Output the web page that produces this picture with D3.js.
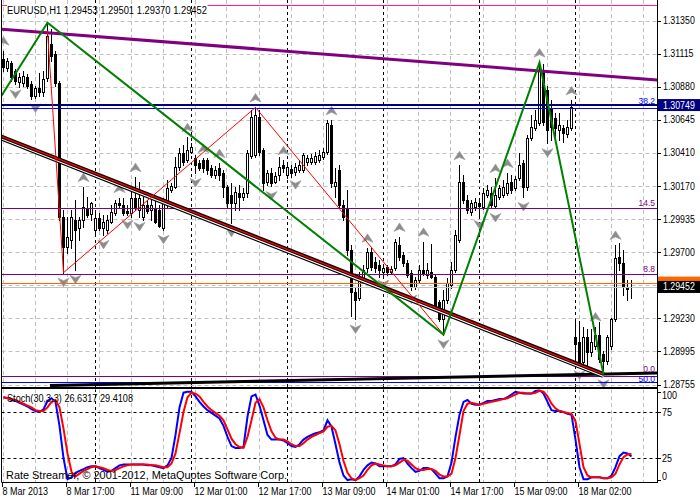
<!DOCTYPE html>
<html><head><meta charset="utf-8">
<script src="https://cdn.jsdelivr.net/npm/d3@7"></script>
<style>
body{margin:0;background:#fff}
svg{display:block}
text{font-family:"Liberation Sans",Arial,sans-serif;font-size:10px}
text.fib{font-size:8.5px}
</style>
</head><body>
<svg id="c" width="700" height="500"></svg>
<script>
// ---------------- DATA ----------------
const symbolTitle = "EURUSD,H1  1.29453 1.29501 1.29370 1.29452";
const stochTitle = "Stoch(30,3,3) 26.6317 29.4108";
const copyright = "Rate Streamer, \u00a9 2001-2012, MetaQuotes Software Corp.";

const opens = [1.31080,1.31016,1.31052,1.30995,1.30910,1.30903,1.30952,1.30896,1.30817,1.30874,
1.30839,1.30945,1.31187,1.31116,1.30903,1.29951,1.29738,1.29788,1.29930,1.29873,
1.29930,1.30015,1.29973,1.29859,1.29944,1.29873,1.29859,1.29916,1.29980,1.30051,
1.30036,1.29994,1.29980,1.30086,1.30001,1.29951,1.30036,1.30001,1.30015,1.30001,
1.29873,1.30036,1.30143,1.30164,1.30306,1.30406,1.30356,1.30413,1.30370,1.30335,
1.30356,1.30356,1.30299,1.30249,1.30299,1.30264,1.30164,1.30107,1.30051,1.30122,
1.30093,1.30122,1.30384,1.30391,1.30661,1.30427,1.30200,1.30264,1.30200,1.30249,
1.30320,1.30249,1.30292,1.30271,1.30285,1.30285,1.30342,1.30342,1.30342,1.30356,
1.30377,1.30413,1.30604,1.30171,1.30285,1.30036,1.30015,1.29717,1.29419,1.29376,
1.29504,1.29589,1.29703,1.29632,1.29610,1.29561,1.29596,1.29561,1.29589,1.29752,
1.29681,1.29625,1.29554,1.29454,1.29504,1.29575,1.29539,1.29561,1.29525,1.29348,
1.29220,1.29362,1.29468,1.29575,1.29788,1.30200,1.30072,1.29987,1.30022,1.30051,
1.30022,1.30107,1.30122,1.30029,1.30093,1.30107,1.30122,1.30200,1.30157,1.30228,
1.30335,1.30164,1.30512,1.30583,1.30619,1.30995,1.30853,1.30725,1.30654,1.30569,
1.30583,1.30541,1.30583,1.29092,1.29057,1.28915,1.29092,1.28986,1.29028,1.29113,
1.28971,1.28922,1.29028,1.29220,1.29667,1.29625,1.29454,1.29453];

const highs = [1.31137,1.31087,1.31066,1.31009,1.30974,1.30995,1.30967,1.30924,1.30888,1.30981,
1.30995,1.31336,1.31293,1.31137,1.30924,1.30001,1.29951,1.30001,1.30072,1.29951,
1.30164,1.30093,1.30058,1.29987,1.29980,1.29965,1.29965,1.30036,1.30072,1.30086,
1.30086,1.30036,1.30164,1.30235,1.30200,1.30093,1.30072,1.30107,1.30072,1.30036,
1.30086,1.30214,1.30193,1.30377,1.30441,1.30462,1.30519,1.30477,1.30391,1.30356,
1.30370,1.30370,1.30320,1.30313,1.30335,1.30285,1.30178,1.30193,1.30164,1.30178,
1.30157,1.30427,1.30711,1.30732,1.30711,1.30441,1.30285,1.30299,1.30271,1.30377,
1.30356,1.30335,1.30320,1.30335,1.30356,1.30406,1.30391,1.30399,1.30413,1.30427,
1.30441,1.30640,1.30640,1.30299,1.30320,1.30072,1.30143,1.29752,1.29454,1.29561,
1.29610,1.29731,1.29731,1.29667,1.29646,1.29610,1.29610,1.29603,1.29795,1.29809,
1.29703,1.29646,1.29575,1.29525,1.29610,1.29774,1.29625,1.29760,1.29539,1.29362,
1.29433,1.29518,1.29632,1.29859,1.30320,1.30249,1.30107,1.30072,1.30086,1.30086,
1.30157,1.30178,1.30164,1.30228,1.30178,1.30214,1.30264,1.30249,1.30242,1.30406,
1.30356,1.30533,1.30675,1.30711,1.31052,1.31045,1.30888,1.30782,1.30690,1.30690,
1.30604,1.30640,1.30782,1.29220,1.29206,1.29170,1.29149,1.29149,1.29170,1.29199,
1.28993,1.29113,1.29234,1.29752,1.29767,1.29717,1.29504,1.29501];

const lows = [1.30995,1.30995,1.30924,1.30896,1.30881,1.30888,1.30867,1.30789,1.30796,1.30810,
1.30817,1.30924,1.31066,1.30888,1.29930,1.29554,1.29696,1.29731,1.29575,1.29788,
1.29880,1.29951,1.29930,1.29838,1.29859,1.29823,1.29838,1.29909,1.29965,1.30015,
1.29965,1.29965,1.29951,1.30001,1.29951,1.29930,1.29980,1.29930,1.29909,1.29880,
1.29859,1.30022,1.30129,1.30157,1.30285,1.30320,1.30342,1.30406,1.30264,1.30285,
1.30271,1.30257,1.30235,1.30228,1.30214,1.30093,1.30022,1.29909,1.30001,1.30001,
1.30072,1.30093,1.30370,1.30377,1.30391,1.30143,1.30178,1.30171,1.30193,1.30214,
1.30271,1.30228,1.30235,1.30249,1.30271,1.30271,1.30320,1.30328,1.30328,1.30342,
1.30363,1.30399,1.30164,1.30093,1.30022,1.29930,1.29681,1.29248,1.29220,1.29362,
1.29490,1.29561,1.29575,1.29561,1.29525,1.29539,1.29539,1.29554,1.29575,1.29646,
1.29603,1.29525,1.29433,1.29440,1.29490,1.29539,1.29518,1.29518,1.29291,1.29206,
1.29113,1.29341,1.29447,1.29561,1.29774,1.30051,1.29980,1.29965,1.30001,1.29965,
1.30008,1.30093,1.30022,1.30015,1.30079,1.30093,1.30107,1.30122,1.30143,1.30214,
1.30093,1.30143,1.30498,1.30569,1.30604,1.30604,1.30477,1.30498,1.30519,1.30498,
1.30484,1.30519,1.30569,1.28900,1.28893,1.28900,1.28893,1.28957,1.29007,1.28915,
1.28829,1.28900,1.29007,1.29206,1.29575,1.29397,1.29362,1.29370];

const closes = [1.31023,1.31066,1.30952,1.30924,1.30952,1.30959,1.30888,1.30817,1.30867,1.30839,
1.30938,1.31243,1.31101,1.30903,1.29951,1.29738,1.29809,1.29951,1.29859,1.29930,
1.30022,1.29965,1.30051,1.29944,1.29873,1.29916,1.29930,1.29987,1.30051,1.30036,
1.29980,1.29980,1.30086,1.30015,1.30086,1.30036,1.29994,1.30036,1.29916,1.29887,
1.30058,1.30157,1.30171,1.30306,1.30406,1.30342,1.30427,1.30448,1.30320,1.30299,
1.30299,1.30285,1.30249,1.30285,1.30249,1.30164,1.30051,1.30051,1.30129,1.30093,
1.30122,1.30406,1.30661,1.30675,1.30413,1.30193,1.30264,1.30193,1.30242,1.30306,
1.30299,1.30306,1.30264,1.30306,1.30320,1.30391,1.30370,1.30370,1.30384,1.30391,
1.30413,1.30619,1.30193,1.30200,1.30036,1.29951,1.29717,1.29419,1.29362,1.29518,
1.29575,1.29703,1.29596,1.29589,1.29575,1.29589,1.29561,1.29582,1.29774,1.29667,
1.29625,1.29539,1.29454,1.29504,1.29575,1.29554,1.29575,1.29525,1.29312,1.29220,
1.29362,1.29483,1.29575,1.29823,1.30200,1.30072,1.30001,1.30051,1.30058,1.30029,
1.30122,1.30143,1.30036,1.30107,1.30157,1.30164,1.30193,1.30143,1.30221,1.30320,
1.30164,1.30512,1.30590,1.30640,1.30995,1.30626,1.30569,1.30590,1.30583,1.30604,
1.30548,1.30590,1.30732,1.29042,1.28915,1.29092,1.28986,1.29057,1.29113,1.28936,
1.28922,1.29092,1.29220,1.29660,1.29625,1.29454,1.29440,1.29452];

const stochMain = [91,90,88,87,85,83,81,78,76,75,78,87,90,86,60,25,2,4,9,11,
13,15,16,16,14,12,10,11,14,17,18,18,18,18,18,18,17,17,16,15,
14,17,25,50,80,96,97,97,92,86,81,77,74,71,68,60,48,38,36,36,
37,70,92,94,82,66,50,45,45,45,44,41,38,37,40,45,48,50,52,53,
55,66,59,40,20,6,1,2,1,5,12,17,20,19,16,16,16,16,18,24,
25,19,14,10,11,14,14,13,8,3,3,5,20,48,72,86,88,84,83,83,
85,87,87,88,89,89,91,94,97,96,95,95,95,98,99,95,86,77,76,76,
75,73,72,45,15,2,2,4,4,4,3,3,6,15,27,31,30,26.6317];

const stochSignal = [91,90,89,88,86,84,82,80,77,76,76,80,86,88,80,57,30,10,5,8,
11,13,15,16,15,14,12,11,12,14,16,17,18,18,18,18,18,17,17,16,
15,15,19,30,52,75,91,96,95,92,86,81,77,74,71,66,56,46,40,37,
36,48,66,85,89,80,66,54,47,45,45,43,40,38,38,41,45,48,50,52,
54,59,60,55,40,22,9,3,1,3,6,12,17,19,18,17,16,16,17,20,
23,22,18,14,12,12,13,13,11,7,5,5,8,25,50,76,84,85,84,83,
84,85,86,87,88,89,90,92,94,96,96,95,95,96,98,97,92,84,79,76,
75,74,73,65,40,15,6,4,4,4,3,3,4,8,18,26,29,29.4108];

const priceTicks = [1.31350,1.31115,1.30880,1.30645,1.30410,1.30170,1.29935,1.29700,1.29465,1.29230,1.28995,1.28755];
const stochTicks = [100,75,25,0];
const stochLevels = [75,25];
const timeLabelBars = [0,16,32,48,64,80,96,112,128,144];
const timeLabels = ["8 Mar 2013","8 Mar 17:00","11 Mar 09:00","12 Mar 01:00","12 Mar 17:00","13 Mar 09:00","14 Mar 01:00","14 Mar 17:00","15 Mar 09:00","18 Mar 02:00"];
const daySeparatorBars = [23,47,71,95,119,143];

const upFractalBars = [0,20,29,33,46,50,54,63,70,82,91,99,105,114,123,126,134,142,148,153];
const downFractalBars = [3,8,15,18,25,31,34,40,48,57,67,73,88,95,102,110,119,123,130,136,144,150];

// chart objects (bar index, price)
const greenZigzag = [[-3.1,1.30699],[11,1.31336],[110,1.29113],[134,1.31052],[150,1.28829]];
const redZigzag = [[11,1.31280],[15,1.29554],[63,1.30732],[110,1.29113]];
const channelLine = [[-0.9,1.30521],[150,1.28824]];
const purpleTrend = [[-0.9,1.31291],[163.4,1.30928]];
const blackTrend = [[11.6,1.28749],[163.4,1.28839]];

const purpleFibLevels = [14.5, 8.8, 0.0];
const purpleFibPrices = [1.30015, 1.29544, 1.28817];
const blueFibLevels = [38.2, 50.0];
const blueFibPrices = [1.30731, 1.28774];
const pinkLinePrice = 1.31462;
const navyLinePrice = 1.30749;
const orangeLinePrice = 1.29483;
const bidPrice = 1.29452;

// ---------------- LAYOUT ----------------
const svg = d3.select('#c');
const L = 1.5, R = 657.5, mainB = 387, indT = 389, indB = 482.5;
const N = opens.length;
const purpleLabelLift = [2.5, 2.5, 5];
const blueLabelLift = [5, 1];

const x = d3.scaleLinear().domain([0, 157]).range([3.5, 631.5]);
const y = d3.scaleLinear().domain([1.28646, 1.31498]).range([400, 0]);
const ys = d3.scaleLinear().domain([0, 100]).range([481, 389]);

const defs = svg.append('defs');
defs.append('clipPath').attr('id','cm').append('rect').attr('x',2).attr('y',0).attr('width',655).attr('height',mainB);
defs.append('clipPath').attr('id','ci').append('rect').attr('x',2).attr('y',indT+0.5).attr('width',655).attr('height',indB-indT-1);

function fit(sel, f){ sel.each(function(){ const w=this.getComputedTextLength(); this.setAttribute('lengthAdjust','spacingAndGlyphs'); this.setAttribute('textLength', (w*f).toFixed(1)); }); }

const main = svg.append('g').attr('clip-path','url(#cm)');
const ind = svg.append('g').attr('clip-path','url(#ci)');

// grid
const gridBars = d3.range(0, 164, 8);
[main, ind].forEach((g, k) => {
  const y0 = k===0 ? 0 : indT, y1 = k===0 ? mainB : indB;
  g.selectAll('line.vg').data(gridBars).join('line').attr('class','vg')
    .attr('x1', d=>Math.round(x(d))-0.5).attr('x2', d=>Math.round(x(d))-0.5).attr('y1',y0).attr('y2',y1)
    .attr('stroke','#c0c0c0').attr('stroke-dasharray','4,3');
  g.selectAll('line.sep').data(daySeparatorBars).join('line').attr('class','sep')
    .attr('x1', d=>x(d)).attr('x2', d=>x(d)).attr('y1',y0).attr('y2',y1)
    .attr('stroke','#000').attr('stroke-dasharray','3,3');
});
main.selectAll('line.hg').data(priceTicks).join('line').attr('class','hg')
  .attr('x1',L).attr('x2',R).attr('y1',d=>Math.round(y(d))+0.5).attr('y2',d=>Math.round(y(d))+0.5)
  .attr('stroke','#c0c0c0').attr('stroke-dasharray','4,3');

// candles
const bars = d3.range(N).map(i=>({i,o:opens[i],h:highs[i],l:lows[i],c:closes[i]}));
const cg = main.append('g');
cg.selectAll('line.w').data(bars).join('line')
  .attr('x1',d=>x(d.i)).attr('x2',d=>x(d.i))
  .attr('y1',d=>Math.round(y(d.h))).attr('y2',d=>Math.round(y(d.l))+1)
  .attr('stroke','#000');
cg.selectAll('rect.b').data(bars).join('rect')
  .attr('x',d=>x(d.i)-1).attr('width',2)
  .attr('y',d=>Math.round(y(Math.max(d.o,d.c)))+0.5)
  .attr('height',d=>Math.max(0, Math.round(y(Math.min(d.o,d.c)))-Math.round(y(Math.max(d.o,d.c)))))
  .attr('fill',d=>d.c>=d.o?'#fff':'#000').attr('stroke','#000');

// fractals
const upPath = 'M0,-4.5L5.5,4L0,1.5L-5.5,4Z';
const dnPath = 'M0,4.5L5.5,-4L0,-1.5L-5.5,-4Z';
main.selectAll('path.fu').data(upFractalBars).join('path')
  .attr('d',upPath).attr('transform',d=>`translate(${x(d)},${y(highs[d])-9.5})`)
  .attr('fill','#8c8c8c').attr('stroke','#9c9c9c').attr('stroke-width',0.7);
main.selectAll('path.fd').data(downFractalBars).join('path')
  .attr('d',dnPath).attr('transform',d=>`translate(${x(d)},${y(lows[d])+9.5})`)
  .attr('fill','#8c8c8c').attr('stroke','#9c9c9c').attr('stroke-width',0.7);

// horizontal objects
function hline(price, color, w, x1=L, x2=R){
  const yy = Math.round(y(price)) + (w%2 ? 0.5 : 0);
  main.append('line').attr('x1',x1).attr('x2',x2).attr('y1',yy).attr('y2',yy).attr('stroke',color).attr('stroke-width',w);
  return yy;
}
hline(pinkLinePrice, '#ff2090', 1, x(51), R);
hline(pinkLinePrice, '#ff2090', 1, 2, 7);
const purpleYs = purpleFibPrices.map(p=>hline(p,'#800080',1));
const blueYs = blueFibPrices.map(p=>hline(p,'#0000ff',1));
hline(navyLinePrice,'#000080',2);
hline(orangeLinePrice,'#ff6600',1);
hline(bidPrice,'#c0c0c0',1);

// trend lines
const lp = d3.line().x(d=>x(d[0])).y(d=>y(d[1]));
main.append('path').attr('d',lp(blackTrend)).attr('stroke','#000').attr('stroke-width',3).attr('fill','none');
main.append('path').attr('d',lp(purpleTrend)).attr('stroke','#800080').attr('stroke-width',3).attr('fill','none');
main.append('path').attr('d',lp(channelLine)).attr('stroke','#000').attr('stroke-width',6).attr('fill','none');
main.append('path').attr('d',lp(channelLine)).attr('transform','translate(0,1.4)').attr('stroke','#fff').attr('stroke-width',1.1).attr('fill','none');
main.append('path').attr('d',lp(channelLine)).attr('transform','translate(0,-1)').attr('stroke','#ff0000').attr('stroke-width',1.4).attr('fill','none');
main.append('path').attr('d',lp(redZigzag)).attr('stroke','#ff0000').attr('stroke-width',1).attr('fill','none');
main.append('path').attr('d',lp(greenZigzag)).attr('stroke','#008000').attr('stroke-width',2).attr('fill','none');

// fib labels
main.selectAll('text.pf').data(purpleFibLevels).join('text').attr('class','fib')
  .attr('x',655).attr('y',(d,i)=>purpleYs[i]-purpleLabelLift[i]).attr('text-anchor','end').attr('fill','#800080')
  .text(d=>d.toFixed(1));
main.selectAll('text.bf').data(blueFibLevels).join('text').attr('class','fib')
  .attr('x',655).attr('y',(d,i)=>blueYs[i]-blueLabelLift[i]).attr('text-anchor','end').attr('fill','#0000ff')
  .text(d=>d.toFixed(1));

// stochastic
ind.selectAll('line.lv').data(stochLevels).join('line')
  .attr('x1',L).attr('x2',R).attr('y1',d=>Math.round(ys(d))+0.5).attr('y2',d=>Math.round(ys(d))+0.5)
  .attr('stroke','#000').attr('stroke-dasharray','3,3');
const ls = d3.line().x((d,i)=>x(i)).y(d=>ys(d));
ind.append('path').attr('d',ls(stochMain)).attr('stroke','#0000ff').attr('stroke-width',2).attr('fill','none');
ind.append('path').attr('d',ls(stochSignal)).attr('stroke','#ff0000').attr('stroke-width',2).attr('fill','none');

// texts in windows
svg.append('text').attr('x',7).attr('y',14).attr('textLength',200).attr('lengthAdjust','spacingAndGlyphs').text(symbolTitle);
svg.append('text').attr('x',7).attr('y',401.5).attr('textLength',126).attr('lengthAdjust','spacingAndGlyphs').text(stochTitle);
svg.append('text').attr('x',6).attr('y',479).attr('textLength',281).attr('lengthAdjust','spacingAndGlyphs').text(copyright);

// frames
svg.append('line').attr('x1',L).attr('x2',L).attr('y1',0).attr('y2',indB).attr('stroke','#000');
svg.append('line').attr('x1',R).attr('x2',R).attr('y1',0).attr('y2',indB+0.5).attr('stroke','#000');
svg.append('rect').attr('x',1).attr('y',mainB).attr('width',657).attr('height',2).attr('fill','#000');
svg.append('line').attr('x1',L).attr('x2',R).attr('y1',indB).attr('y2',indB).attr('stroke','#000');

// price axis (the label under the current-price box is hidden, as in the terminal)
const pa = svg.append('g');
pa.selectAll('line').data(priceTicks).join('line')
  .attr('x1',R).attr('x2',661).attr('y1',d=>Math.round(y(d))+0.5).attr('y2',d=>Math.round(y(d))+0.5).attr('stroke','#000');
pa.selectAll('text').data(priceTicks.filter(d=>Math.abs(y(d)-y(bidPrice))>9)).join('text')
  .attr('x',663).attr('y',d=>y(d)+3.5).text(d=>d.toFixed(5)).call(fit,0.88);

function priceBox(price, bg, withText){
  const yy = y(price);
  svg.append('rect').attr('x',658).attr('y',yy-6).attr('width',42).attr('height',12).attr('fill',bg);
  if (withText) svg.append('text').attr('x',663).attr('y',yy+3.5).attr('fill','#fff').text(price.toFixed(5)).call(fit,0.88);
}
priceBox(navyLinePrice,'#000080',true);
priceBox(orangeLinePrice,'#ff6600',false);
priceBox(bidPrice,'#000',true);

// stoch axis
const sa = svg.append('g');
sa.selectAll('line').data(stochTicks).join('line')
  .attr('x1',R).attr('x2',661).attr('y1',d=>Math.round(Math.min(Math.max(ys(d),392),480))+0.5).attr('y2',d=>Math.round(Math.min(Math.max(ys(d),392),480))+0.5).attr('stroke','#000');
sa.selectAll('text').data(stochTicks).join('text')
  .attr('x',662).attr('y',d=>Math.min(Math.max(ys(d),395),476)+3.5).text(d=>d).call(fit,0.9);

// time axis
const ta = svg.append('g');
ta.selectAll('line').data(timeLabelBars).join('line')
  .attr('x1',d=>x(d)-1).attr('x2',d=>x(d)-1).attr('y1',indB).attr('y2',487).attr('stroke','#000');
ta.selectAll('text').data(timeLabelBars).join('text')
  .attr('x',d=>x(d)-1).attr('y',494.5).text((d,i)=>timeLabels[i]).call(fit,0.9);
</script>
</body></html>
